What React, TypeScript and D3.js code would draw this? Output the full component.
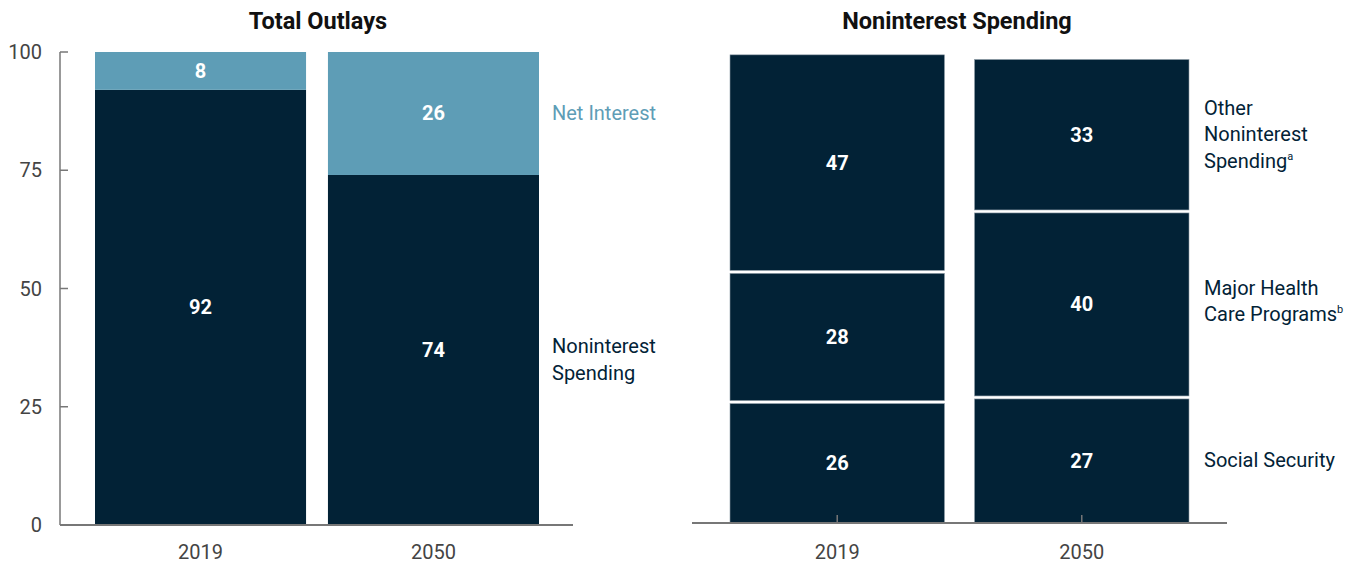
import React from 'react';
import * as d3 from 'd3';

const years = ['2019', '2050'];
const netInterest = [8, 26];
const noninterest = [92, 74];
const socialSecurity = [26, 27];
const healthCare = [28, 40];
const otherNoninterest = [47, 33];
const yTicks = [0, 25, 50, 75, 100];

const DARK = '#022236';
const LIGHT = '#5e9db6';
const FONT = 'Roboto, "Liberation Sans", sans-serif';

const App: React.FC = () => {
  const width = 1352;
  const height = 563;

  // left panel scales
  const yL = d3.scaleLinear().domain([0, 100]).range([525, 52]);
  const xL = d3.scaleBand().domain(years).range([95, 539]).paddingInner(0.094);

  // right panel scales
  const yR = d3.scaleLinear().domain([0, 100]).range([523, 58]);
  const xR = d3.scaleBand().domain(years).range([730, 1189]).paddingInner(0.123);

  const leftSeries = [
    { name: 'Noninterest', values: noninterest, color: DARK },
    { name: 'Net Interest', values: netInterest, color: LIGHT },
  ];
  const rightSeries = [
    { name: 'Social Security', values: socialSecurity },
    { name: 'Health', values: healthCare },
    { name: 'Other', values: otherNoninterest },
  ];

  const leftStack = years.map((yr, i) => {
    let base = 0;
    return leftSeries.map(s => {
      const seg = { yr, y0: base, y1: base + s.values[i], v: s.values[i], color: s.color };
      base += s.values[i];
      return seg;
    });
  }).flat();

  const rightStack = years.map((yr, i) => {
    let base = 0;
    return rightSeries.map((s, k) => {
      const seg = { yr, y0: base, y1: base + s.values[i], v: s.values[i], first: k === 0 };
      base += s.values[i];
      return seg;
    });
  }).flat();

  const valueStyle = { fontFamily: FONT, fontSize: 20, fontWeight: 700, fill: '#fff' } as const;
  const labelStyle = { fontFamily: FONT, fontSize: 20, fill: DARK } as const;
  const titleStyle = { fontFamily: FONT, fontSize: 23.5, fontWeight: 700, fill: '#111' } as const;

  return (
    <svg width={width} height={height} style={{ display: 'block', position: 'absolute', left: 0, top: 0 }}>
      <rect width={width} height={height} fill="#fff" />

      {/* titles */}
      <text x={318} y={29} textAnchor="middle" style={titleStyle}>
        Total Outlays
      </text>
      <text x={957} y={29} textAnchor="middle" style={titleStyle}>
        Noninterest Spending
      </text>

      {/* left bars */}
      {leftStack.map((d, i) => (
        <g key={'l' + i}>
          <rect x={xL(d.yr)} y={yL(d.y1)} width={xL.bandwidth()} height={yL(d.y0) - yL(d.y1)} fill={d.color} />
          <text x={(xL(d.yr) as number) + xL.bandwidth() / 2} y={(yL(d.y0) + yL(d.y1)) / 2 + 7} textAnchor="middle" style={valueStyle}>
            {d.v}
          </text>
        </g>
      ))}

      {/* left axis */}
      <line x1={60} x2={60} y1={yL(100)} y2={yL(0)} stroke="#777" strokeWidth={1.5} />
      <line x1={60} x2={573} y1={yL(0)} y2={yL(0)} stroke="#777" strokeWidth={2} />
      {yTicks.map(t => (
        <g key={'t' + t}>
          <line x1={60} x2={68} y1={yL(t)} y2={yL(t)} stroke="#777" strokeWidth={1.5} />
          <text x={42} y={yL(t) + 7} textAnchor="end" style={{ fontFamily: FONT, fontSize: 20, fill: '#444' }}>
            {t}
          </text>
        </g>
      ))}
      {years.map(yr => (
        <text key={'xl' + yr} x={(xL(yr) as number) + xL.bandwidth() / 2} y={559} textAnchor="middle" style={{ fontFamily: FONT, fontSize: 20, fill: '#444' }}>
          {yr}
        </text>
      ))}

      {/* left labels */}
      <text x={552} y={120} style={{ ...labelStyle, fill: LIGHT }}>Net Interest</text>
      <text x={552} y={353} style={labelStyle}>Noninterest</text>
      <text x={552} y={380} style={labelStyle}>Spending</text>

      {/* right bars */}
      {rightStack.map((d, i) => {
        const top = yR(d.y1) + 1.5;
        const bottom = d.first ? yR(d.y0) : yR(d.y0) - 1.5;
        return (
          <g key={'r' + i}>
            <rect x={xR(d.yr)} y={top} width={xR.bandwidth()} height={bottom - top} fill={DARK} stroke="#8d9ba6" strokeWidth={0.6} />
            <text x={(xR(d.yr) as number) + xR.bandwidth() / 2} y={(top + bottom) / 2 + 7} textAnchor="middle" style={valueStyle}>
              {d.v}
            </text>
          </g>
        );
      })}
      <line x1={692} x2={1227} y1={yR(0)} y2={yR(0)} stroke="#777" strokeWidth={2} />
      {years.map(yr => (
        <g key={'xr' + yr}>
          <line
            x1={(xR(yr) as number) + xR.bandwidth() / 2}
            x2={(xR(yr) as number) + xR.bandwidth() / 2}
            y1={yR(0)}
            y2={yR(0) - 8}
            stroke="#777"
            strokeWidth={1.5}
          />
          <text x={(xR(yr) as number) + xR.bandwidth() / 2} y={559} textAnchor="middle" style={{ fontFamily: FONT, fontSize: 20, fill: '#444' }}>
            {yr}
          </text>
        </g>
      ))}

      {/* right labels */}
      <text x={1204} y={115} style={labelStyle}>Other</text>
      <text x={1204} y={141} style={labelStyle}>Noninterest</text>
      <text x={1204} y={168} style={labelStyle}>
        Spending<tspan fontSize={11} dy={-8}>a</tspan>
      </text>
      <text x={1204} y={295} style={labelStyle}>Major Health</text>
      <text x={1204} y={321} style={labelStyle}>
        Care Programs<tspan fontSize={11} dy={-8}>b</tspan>
      </text>
      <text x={1204} y={467} style={labelStyle}>Social Security</text>
    </svg>
  );
};

export default App;
